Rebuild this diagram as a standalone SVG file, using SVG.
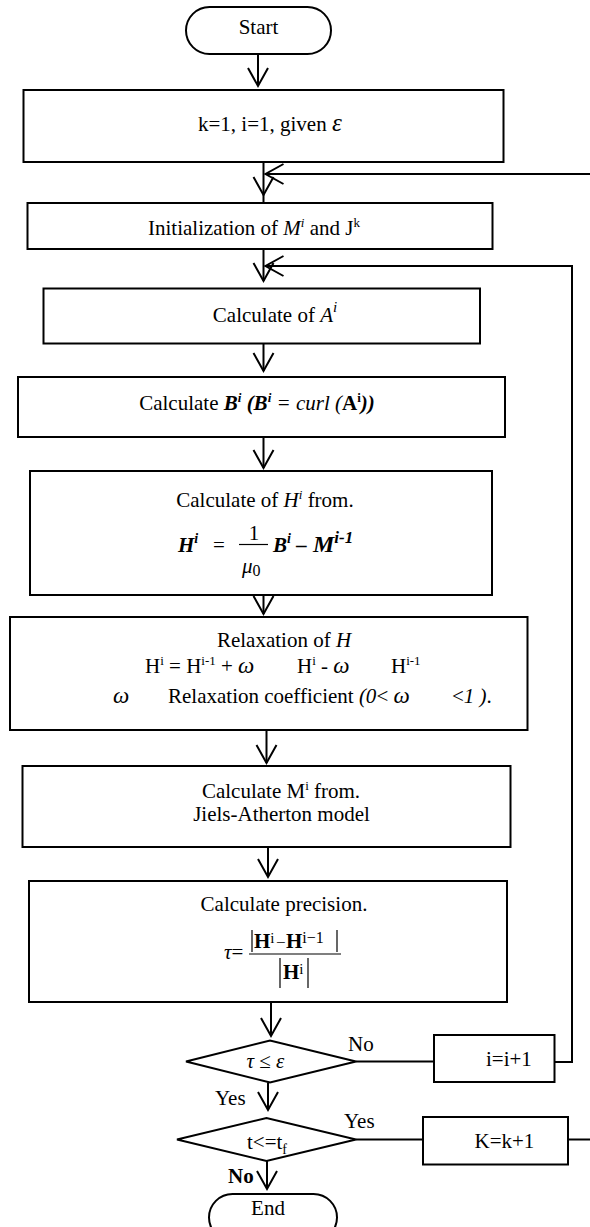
<svg xmlns="http://www.w3.org/2000/svg" width="590" height="1227" viewBox="0 0 590 1227">
<style>
text{font-family:"Liberation Serif","Times New Roman",serif;font-size:21px;fill:#000}
.box{fill:#fff;stroke:#000;stroke-width:2}
.ln{fill:none;stroke:#000;stroke-width:2}
.ar{fill:none;stroke:#000;stroke-width:2;marker-end:url(#v)}
.thin{fill:none;stroke:#000;stroke-width:1.2}
.it{font-style:italic}
.bi{font-style:italic;font-weight:bold}
.b{font-weight:bold}
.sup{font-size:13px}
.mid{text-anchor:middle}
</style>
<defs>
<marker id="v" markerUnits="userSpaceOnUse" markerWidth="24" markerHeight="24" viewBox="-20 -12 22 24" refX="0" refY="0" orient="auto">
<path d="M-18,-10 L0,0 L-18,10" fill="none" stroke="#000" stroke-width="2"/>
</marker>
</defs>
<rect x="0" y="0" width="590" height="1227" fill="#fff"/>

<g id="connectors">
<path class="ar" d="M258,54 V86"/>
<path class="ar" d="M263.5,162 V195"/>
<path class="ln" d="M263.5,195 V203"/>
<path class="ar" d="M590,174 H265.5"/>
<path class="ar" d="M263.5,249 V281"/>
<path class="ar" d="M572,266 H265.5"/>
<path class="ln" d="M572,265 V1062 H554.5"/>
<path class="ar" d="M263.5,343.5 V371"/>
<path class="ar" d="M263.5,437 V468"/>
<path class="ar" d="M263.5,595 V614"/>
<path class="ar" d="M266.5,730 V763"/>
<path class="ar" d="M268,847 V877"/>
<path class="ar" d="M271,1002 V1036"/>
<path class="ln" d="M356,1061.5 H434"/>
<path class="ar" d="M268,1082.5 V1110"/>
<path class="ln" d="M356,1139.5 H423"/>
<path class="ln" d="M568,1139.5 H590"/>
<path class="ar" d="M267,1161 V1189"/>
<text x="348" y="1051">No</text>
<text x="215" y="1105">Yes</text>
<text x="344" y="1128">Yes</text>
<text x="228" y="1183" class="b">No</text>
</g>

<g id="start">
<rect class="box" x="186" y="7" width="145" height="47" rx="23.5"/>
<text class="mid" x="258.5" y="34" font-size="22">Start</text>
</g>

<g id="init">
<rect class="box" x="23.5" y="90" width="480" height="72"/>
<text x="198" y="131">k=1, i=1, given <tspan class="it" font-size="25">ε</tspan></text>
</g>

<g id="initMJ">
<rect class="box" x="27.5" y="203" width="465" height="46"/>
<text class="mid" x="254" y="235">Initialization of <tspan class="it">M</tspan><tspan class="sup it" dy="-8">i</tspan><tspan dy="8"> and J</tspan><tspan class="sup" dy="-8">k</tspan></text>
</g>

<g id="calcA">
<rect class="box" x="43.5" y="288.5" width="436.5" height="55"/>
<text class="mid" x="275" y="322" font-size="24">Calculate of <tspan class="it">A</tspan><tspan class="it" font-size="15" dy="-10">i</tspan></text>
</g>

<g id="calcB">
<rect class="box" x="18" y="377" width="487" height="60"/>
<text class="mid" x="257" y="410">Calculate <tspan class="bi">B</tspan><tspan class="bi sup" dy="-8">i</tspan><tspan class="bi" dy="8"> (B</tspan><tspan class="bi sup" dy="-8">i</tspan><tspan class="it" dy="8"> = curl (</tspan><tspan class="b">A</tspan><tspan class="b sup" dy="-8">i</tspan><tspan class="bi" dy="8">))</tspan></text>
</g>

<g id="calcH">
<rect class="box" x="30" y="471" width="462" height="124"/>
<text class="mid" x="265" y="507">Calculate of <tspan class="it">H</tspan><tspan class="it sup" dy="-8">i</tspan><tspan dy="8"> from.</tspan></text>
<text x="178" y="552" class="bi" font-size="23">H<tspan font-size="14" dy="-9">i</tspan></text>
<text x="213" y="552" font-size="23">=</text>
<text x="254" y="540" font-size="24" class="mid">1</text>
<line class="thin" x1="239" y1="544.5" x2="268" y2="544.5"/>
<text x="242" y="573" font-size="24" class="it">μ<tspan font-size="16" font-style="normal" dy="3">0</tspan></text>
<text x="273" y="552" class="bi" font-size="23">B<tspan font-size="14" dy="-9">i</tspan><tspan dy="9"> – </tspan><tspan x="313" font-size="24">M</tspan><tspan font-size="17" dy="-9">i-1</tspan></text>
</g>

<g id="relax">
<rect class="box" x="10" y="617" width="517.5" height="113"/>
<text class="mid" x="284" y="647">Relaxation of <tspan class="it">H</tspan></text>
<text y="673"><tspan x="145">H</tspan><tspan class="sup" dy="-8">i</tspan><tspan dy="8"> = H</tspan><tspan class="sup" dy="-8">i-1</tspan><tspan dy="8"> + </tspan><tspan class="it" font-size="23">ω</tspan><tspan x="297">H</tspan><tspan class="sup" dy="-8">i</tspan><tspan dy="8"> - </tspan><tspan class="it" font-size="23">ω</tspan><tspan x="391">H</tspan><tspan class="sup" dy="-8">i-1</tspan></text>
<text y="703"><tspan x="113" class="it" font-size="23">ω</tspan><tspan x="168">Relaxation coefficient </tspan><tspan class="it">(0</tspan><tspan>&lt; </tspan><tspan class="it" font-size="23">ω</tspan><tspan x="452">&lt;</tspan><tspan class="it">1  )</tspan><tspan>.</tspan></text>
</g>

<g id="calcM">
<rect class="box" x="22.5" y="766" width="488" height="81"/>
<text class="mid" x="281" y="798">Calculate M<tspan class="sup" dy="-8">i</tspan><tspan dy="8">  from.</tspan></text>
<text class="mid" x="281.5" y="821">Jiels-Atherton model</text>
</g>

<g id="prec">
<rect class="box" x="29" y="881" width="478" height="121"/>
<text class="mid" x="284" y="911">Calculate precision.</text>
<text x="224" y="959"><tspan class="it">τ</tspan>=</text>
<line class="thin" x1="249" y1="954" x2="341" y2="954"/>
<line class="thin" x1="252" y1="930" x2="252" y2="952"/>
<line class="thin" x1="337" y1="930" x2="337" y2="952"/>
<text x="254" y="948" class="b">H<tspan font-size="15" font-weight="normal" dy="-5">i</tspan><tspan dy="5" x="276" font-size="17" font-weight="normal">−</tspan><tspan x="286">H</tspan><tspan font-weight="normal" font-size="16" dy="-5">i−1</tspan></text>
<line class="thin" x1="280" y1="958" x2="280" y2="988"/>
<line class="thin" x1="308" y1="958" x2="308" y2="988"/>
<text x="283" y="979" class="b">H<tspan font-size="15" font-weight="normal" dy="-5">i</tspan></text>
</g>

<g id="dec1">
<polygon class="box" points="186,1061.5 270,1040.5 356,1061.5 270,1082.5"/>
<text x="246.5" y="1068"><tspan class="it">τ</tspan> ≤ <tspan class="it">ε</tspan></text>
</g>

<g id="inc_i">
<rect class="box" x="434" y="1035" width="120.5" height="47"/>
<text x="486" y="1066">i=i+1</text>
</g>

<g id="dec2">
<polygon class="box" points="177,1139.5 266.5,1118 356,1139.5 266.5,1161"/>
<text x="247" y="1149">t&lt;=t<tspan font-size="14" dy="5">f</tspan></text>
</g>

<g id="inc_k">
<rect class="box" x="423" y="1117" width="145" height="47.5"/>
<text x="474.5" y="1148">K=k+1</text>
</g>

<g id="end">
<rect class="box" x="209" y="1194" width="128" height="47" rx="23.5"/>
<text class="mid" x="268" y="1215">End</text>
</g>
</svg>
